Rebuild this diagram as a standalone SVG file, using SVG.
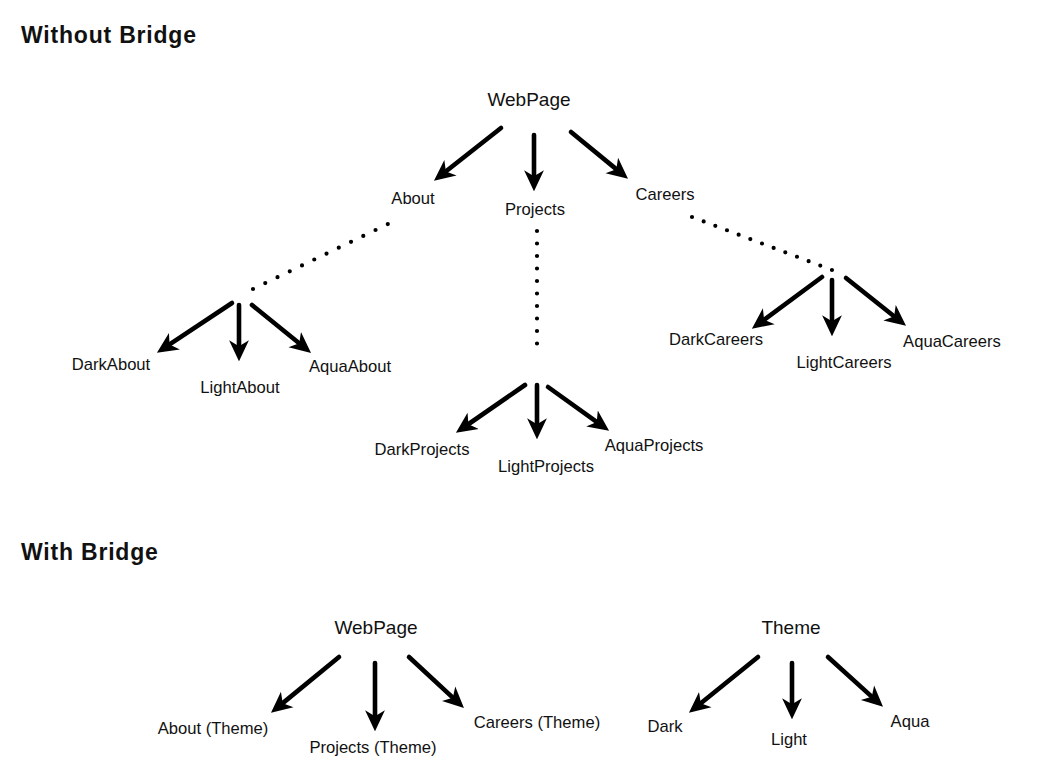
<svg xmlns="http://www.w3.org/2000/svg" width="1051" height="773" viewBox="0 0 1051 773">
<style>
text{font-family:"Liberation Sans",Arial,sans-serif;fill:#111;text-anchor:middle}
.t{font-size:16.6px}
.r{font-size:19px}
.h{font-size:23px;font-weight:bold;text-anchor:start;letter-spacing:0.8px}
.a{stroke:#000;stroke-width:4.6;fill:none;stroke-linecap:round;marker-end:url(#ah)}
.d{stroke:#000;stroke-width:4.2;fill:none;stroke-linecap:round}
</style>
<defs>
<marker id="ah" markerUnits="userSpaceOnUse" markerWidth="21" markerHeight="21" viewBox="0 0 18 18" refX="10" refY="9" orient="auto">
<path d="M0,0.5 L18,9 L0,17.5 L5,9 z" fill="#000"/>
</marker>
</defs>
<rect width="1051" height="773" fill="#fff"/>
<text class="h" x="21" y="43">Without Bridge</text>
<text class="h" x="21" y="560">With Bridge</text>
<g id="connectors">
<line class="a" x1="501" y1="128" x2="441.3" y2="175"/>
<line class="a" x1="534" y1="135" x2="534" y2="182"/>
<line class="a" x1="571" y1="132" x2="620.8" y2="172.9"/>
<line class="d" x1="253" y1="289" x2="388" y2="224" stroke-dasharray="0 13.6"/>
<line class="d" x1="537" y1="231" x2="537" y2="356" stroke-dasharray="0 12.5"/>
<line class="d" x1="692" y1="217" x2="832" y2="270" stroke-dasharray="0 12.47"/>
<line class="a" x1="232" y1="303" x2="164.7" y2="347.6"/>
<line class="a" x1="239" y1="305" x2="239" y2="352"/>
<line class="a" x1="252" y1="305" x2="303.8" y2="347"/>
<line class="a" x1="525" y1="385" x2="463.6" y2="427.5"/>
<line class="a" x1="537" y1="385" x2="537" y2="430"/>
<line class="a" x1="548" y1="387" x2="601.5" y2="425.3"/>
<line class="a" x1="822" y1="277" x2="759.4" y2="323.2"/>
<line class="a" x1="832" y1="280" x2="832" y2="327"/>
<line class="a" x1="846" y1="278" x2="898.7" y2="320"/>
<line class="a" x1="339" y1="657" x2="278.2" y2="706.9"/>
<line class="a" x1="375" y1="663" x2="375" y2="722"/>
<line class="a" x1="409" y1="657" x2="457.1" y2="701.6"/>
<line class="a" x1="758" y1="657" x2="696.2" y2="707"/>
<line class="a" x1="792" y1="663" x2="792" y2="710"/>
<line class="a" x1="828" y1="657" x2="876.1" y2="700.6"/>
</g>
<g id="webpage1"><text class="r" x="529" y="106">WebPage</text></g>
<g id="about"><text class="t" x="413" y="204">About</text></g>
<g id="projects"><text class="t" x="535" y="215">Projects</text></g>
<g id="careers"><text class="t" x="665" y="200">Careers</text></g>
<g id="darkabout"><text class="t" x="111" y="370">DarkAbout</text></g>
<g id="lightabout"><text class="t" x="240" y="393">LightAbout</text></g>
<g id="aquaabout"><text class="t" x="350" y="372">AquaAbout</text></g>
<g id="darkprojects"><text class="t" x="422" y="455">DarkProjects</text></g>
<g id="lightprojects"><text class="t" x="546" y="472">LightProjects</text></g>
<g id="aquaprojects"><text class="t" x="654" y="451">AquaProjects</text></g>
<g id="darkcareers"><text class="t" x="716" y="345">DarkCareers</text></g>
<g id="lightcareers"><text class="t" x="844" y="368">LightCareers</text></g>
<g id="aquacareers"><text class="t" x="952" y="347">AquaCareers</text></g>
<g id="webpage2"><text class="r" x="376" y="634">WebPage</text></g>
<g id="abouttheme"><text class="t" x="213" y="734">About (Theme)</text></g>
<g id="projectstheme"><text class="t" x="373" y="753">Projects (Theme)</text></g>
<g id="careerstheme"><text class="t" x="537" y="728">Careers (Theme)</text></g>
<g id="theme"><text class="r" x="791" y="634">Theme</text></g>
<g id="dark"><text class="t" x="665" y="732">Dark</text></g>
<g id="light"><text class="t" x="789" y="745">Light</text></g>
<g id="aqua"><text class="t" x="910" y="727">Aqua</text></g>
</svg>
